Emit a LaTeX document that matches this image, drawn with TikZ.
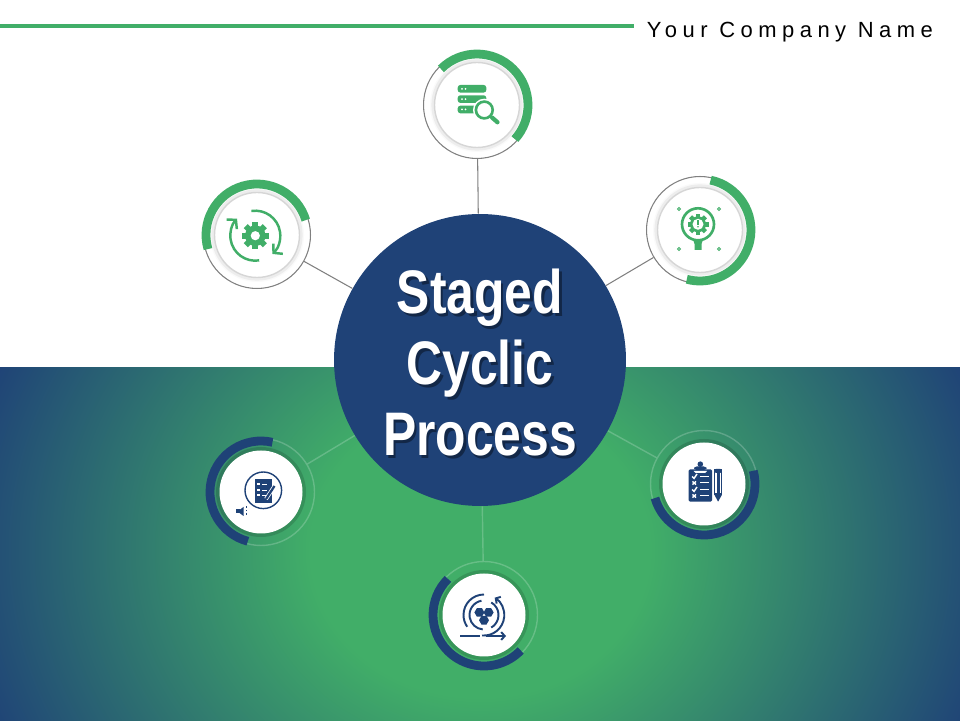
\documentclass[tikz,border=0pt]{standalone}
\usepackage{fontspec}
\usetikzlibrary{arrows.meta}
\setmainfont{Liberation Sans}
\newfontfamily\titlefont[FakeStretch=0.81]{Liberation Sans}
\definecolor{leaf}{HTML}{41AE68}
\definecolor{navy}{HTML}{1F4277}
\pgfdeclareradialshading{glow}{\pgfpoint{0bp}{0bp}}{color(0bp)=(leaf); color(8bp)=(leaf); color(25bp)=(navy); color(50bp)=(navy)}
\tikzset{
  hubnode/.style={circle,fill=navy,minimum size=5.84cm,inner sep=0pt},
  titletext/.style={text=#1,align=center,font=\titlefont\bfseries\fontsize{35}{40.4}\selectfont},
  satup/.style={circle,draw=gray,line width=.6pt,minimum size=2.14cm,inner sep=0pt},
  satdown/.style={circle,draw=white,draw opacity=.2,line width=.8pt,minimum size=2.14cm,inner sep=0pt},
  linkup/.style={draw=gray,line width=.6pt},
  linkdown/.style={draw=white,draw opacity=.2,line width=.8pt},
  ringarc/.style={line width=5pt},
}
\newcommand{\arcring}[4]{\draw[ringarc,#4] ([shift={(#2:51)}]#1.center) arc[start angle=#2,end angle=#3,radius=51];}
\newcommand{\discup}[1]{%
  \fill[black!2] (#1.center) circle (47);
  \draw[black!7,line width=2.4pt] (#1.center) circle (43.5);
  \draw[black!16,fill=white,line width=.8pt] (#1.center) circle (42.5);}
\newcommand{\discdown}[1]{%
  \fill[black,opacity=.14] (#1.center) circle (45);
  \fill[white] (#1.center) circle (41.5);}
\newcommand{\gearicon}[3]{%
  \foreach \a in {0,45,...,315} \draw[#3,line width=#1*.24pt] (0,0) -- (\a:#1);
  \fill[#3] (0,0) circle (#1*.76);
  \fill[white] (0,0) circle (#2);}
\begin{document}
\begin{tikzpicture}[x=0.02cm,y=0.02cm]
  \useasboundingbox (0,0) rectangle (960,720);
  \begin{scope}
    \clip (-5,-5) rectangle (965,360);
    \fill[navy] (-5,-5) rectangle (965,360);
    \shade[shading=glow] (480,170) ellipse (530 and 460);
  \end{scope}
  \fill[white] (-5,353) rectangle (965,725);
  \fill[leaf] (0,692) rectangle (634,696);
  \node[anchor=west,inner sep=0pt] (company) at (646.5,688)
    {\fontsize{12.5}{14}\selectfont\addfontfeature{LetterSpace=25}Your Company Name};

  \node[hubnode] (hub) at (480,360) {};
  \node[satup] (search) at (477,615) {};
  \node[satup] (alert) at (700,490) {};
  \node[satup] (cycle) at (257,485) {};
  \node[satdown] (notes) at (261,228) {};
  \node[satdown] (tasks) at (704,236) {};
  \node[satdown] (molecule) at (484,105) {};
  \node[titletext=black,opacity=.4] (titleshadow) at (482.5,354.5) {Staged\\Cyclic\\Process};
  \node[titletext=white] (title) at (480,357) {Staged\\Cyclic\\Process};

  % spokes
  \draw[linkup] (hub) -- (search);
  \draw[linkup] (hub) -- (alert);
  \draw[linkup] (hub) -- (cycle);
  \draw[linkdown] (hub) -- (notes);
  \draw[linkdown] (hub) -- (tasks);
  \draw[linkdown] (hub) -- (molecule);

  % rings
  \discup{search} \discup{alert} \discup{cycle}
  \discdown{notes} \discdown{tasks} \discdown{molecule}
  \arcring{search}{135}{-42}{leaf}
  \arcring{alert}{78}{-105}{leaf}
  \arcring{cycle}{196}{17}{leaf}
  \arcring{notes}{77}{255}{navy}
  \arcring{tasks}{15}{-164}{navy}
  \arcring{molecule}{135}{316}{navy}

  % server and lens
  \begin{scope}[shift={(search.center)}]
    \foreach \y in {20,9.7,-0.7}
      \fill[leaf,rounded corners=1.5pt] (-19.3,\y) rectangle (9.3,\y-7.6);
    \foreach \y in {16.2,5.9,-4.5} {
      \fill[white] (-15,\y) circle (1);
      \fill[white] (-11.5,\y) circle (1);
    }
    \draw[white,line width=2.6pt] (7.3,-5) circle (9);
    \draw[leaf,fill=white,line width=1.5pt] (7.3,-5) circle (8.4);
    \draw[leaf,line width=2.4pt,line cap=round] (15,-12.5) -- (20.5,-17.3);
  \end{scope}

  % gear in a bulb
  \begin{scope}[shift={(alert.center)}]
    \draw[leaf,line width=1.5pt] (-2,5.7) circle (16);
    \fill[leaf] (-7,-9.5) -- (3,-9.5) -- (1.5,-14) -- (1.5,-20) -- (-5.5,-20) -- (-5.5,-14) -- cycle;
    \begin{scope}[shift={(-2,5.7)}]
      \gearicon{10.5}{5.5}{leaf}
      \fill[leaf] (-.8,-.5) rectangle (.8,4);
      \fill[leaf] (0,-2.5) circle (.9);
    \end{scope}
    \foreach \x/\y in {-21/21,19/21,-21/-19,19/-19}
      \draw[leaf,line width=.5pt] (\x,\y+1.6) -- (\x+1.6,\y) -- (\x,\y-1.6) -- (\x-1.6,\y) -- cycle;
  \end{scope}

  % gear with two arrows
  \begin{scope}[shift={(cycle.center)}]
    \begin{scope}[shift={(-1.7,-.7)}]
      \gearicon{13.5}{4.6}{leaf}
      \draw[leaf,line width=1.4pt,-{Straight Barb[length=3.5pt,width=8pt]}] (99:25) arc[start angle=99,end angle=-47,radius=25];
      \draw[leaf,line width=1.4pt,-{Straight Barb[length=3.5pt,width=8pt]}] (-81:25) arc[start angle=-81,end angle=-223,radius=25];
    \end{scope}
  \end{scope}

  % form with pen and speaker
  \begin{scope}[shift={(notes.center)}]
    \draw[navy,line width=.8pt] (2.3,1.7) circle (18.3);
    \fill[navy] (-6,13.3) rectangle (10.7,-10.7);
    \foreach \y in {7.5,2,-3.5} {
      \fill[white] (-3.7,\y-1) rectangle (-.7,\y+1);
      \fill[white] (.8,\y-.4) rectangle (5.5,\y+.4);
    }
    \draw[white,line width=2.2pt] (5,-7) -- (13.5,6);
    \draw[navy,line width=1.3pt] (5,-7) -- (13.5,6);
    \fill[navy] (-25,-17.5) rectangle (-21.5,-21.5);
    \fill[navy] (-21.5,-18) -- (-17.5,-15) -- (-17.5,-24) -- (-21.5,-21) -- cycle;
    \foreach \y in {-16,-19.5,-23} \fill[navy] (-14.8,\y) rectangle (-13.6,\y+1.6);
  \end{scope}

  % clipboard and pencil
  \begin{scope}[shift={(tasks.center)}]
    \fill[navy,rounded corners=.8pt] (-15.3,14.7) rectangle (8,-17.7);
    \fill[navy,rounded corners=1.5pt] (-10,14) rectangle (2.5,17.5);
    \fill[navy] (-3.7,19.8) circle (2.8);
    \fill[white] (-10.5,13) -- (3,13) -- (1,11) -- (-8.5,11) -- cycle;
    \foreach \y in {7.5,-5.5} {
      \draw[white,line width=.8pt] (-12,\y) -- (-10,\y-2) -- (-7,\y+2.5);
      \fill[white] (-4.5,\y-.5) rectangle (4.5,\y+.5);
    }
    \foreach \y in {1,-12} {
      \draw[white,line width=.8pt] (-11.5,\y-1.7) -- (-8,\y+1.7) (-11.5,\y+1.7) -- (-8,\y-1.7);
      \fill[white] (-4.5,\y-.5) rectangle (4.5,\y+.5);
    }
    \draw[navy,line width=.7pt] (10.5,14.7) rectangle (17.8,-10);
    \fill[navy,rounded corners=.8pt] (10.5,15) rectangle (17.8,11);
    \fill[navy] (12.8,11) rectangle (15.5,-10);
    \fill[navy] (10.5,-11) -- (17.8,-11) -- (14.1,-17.7) -- cycle;
  \end{scope}

  % molecule in a loop
  \begin{scope}[shift={(molecule.center)}]
    \foreach \x/\y in {-4.6/2.6,4.6/2.6,0/-5.2}
      \fill[navy] (\x+5,\y) -- ++(120:5) -- ++(180:5) -- ++(240:5) -- ++(300:5) -- ++(0:5) -- cycle;
    \draw[navy,line width=1.1pt] (100:14.5) arc[start angle=100,end angle=265,radius=14.5];
    \draw[navy,line width=1.1pt] (-60:14.5) arc[start angle=-60,end angle=60,radius=14.5];
    \draw[navy,line width=1.1pt] (90:20.5) arc[start angle=90,end angle=215,radius=20.5];
    \draw[navy,line width=1.1pt,-{Straight Barb[length=2pt,width=4.5pt]}] (-2,-20.5) arc[start angle=-95,end angle=58,radius=20.5];
    \draw[navy,line width=1.1pt] (-24,-21) -- (-4.5,-21);
    \draw[navy,line width=1.1pt,-{Straight Barb[length=2pt,width=4.5pt]}] (2,-21) -- (22,-21);
  \end{scope}
\end{tikzpicture}
\end{document}
